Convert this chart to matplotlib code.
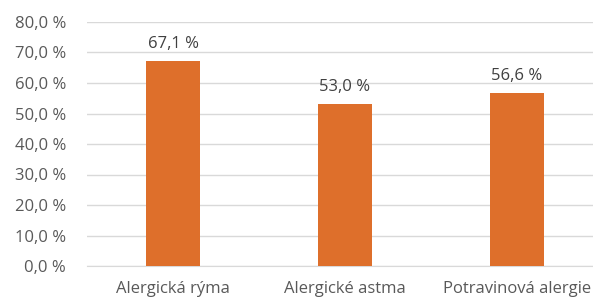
import numpy as np
import matplotlib.pyplot as plt

categories = ["Alergická rýma", "Alergické astma", "Potravinová alergie"]
values = [67.1, 53.0, 56.6]
yticks = [0, 10, 20, 30, 40, 50, 60, 70, 80]

plt.rcParams['font.family'] = ['Open Sans', 'DejaVu Sans']

fig = plt.figure(figsize=(5.93, 3.02), dpi=100)
ax = fig.add_axes([87/593, 36/302, 516/593, 244/302])

x = np.arange(len(categories))
ax.bar(x, values, width=0.314, color='#DE6F2B', zorder=3)
for xi, v in zip(x, values):
    ax.annotate(f"{v:.1f} %".replace('.', ','), (xi, v), xytext=(0, 7),
                textcoords='offset points', ha='center', va='bottom',
                fontsize=12, color='#404040')

ax.set_xlim(-0.5, len(categories) - 0.5)
ax.set_ylim(0, 80)
ax.set_yticks(yticks)
ax.set_yticklabels([f"{t:.1f} %".replace('.', ',') for t in yticks])
ax.set_xticks(x)
ax.set_xticklabels(categories)
ax.tick_params(axis='y', length=0, pad=15, labelsize=12, labelcolor='#595959')
ax.tick_params(axis='x', length=0, pad=11, labelsize=12, labelcolor='#595959')
ax.grid(axis='y', color='#D9D9D9', linewidth=1, zorder=0)
for s in ['top', 'right', 'left']:
    ax.spines[s].set_visible(False)
ax.spines['bottom'].set_color('#D9D9D9')

fig.savefig('out.png', dpi=100)
